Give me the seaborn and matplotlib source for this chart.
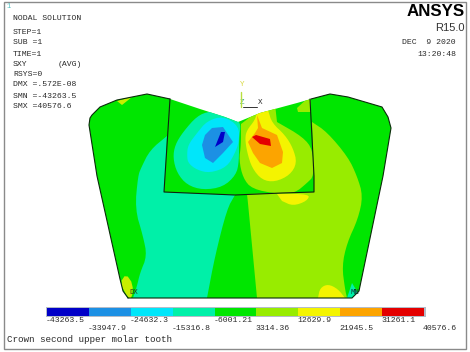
import numpy as np
import matplotlib
matplotlib.use("Agg")
import matplotlib.pyplot as plt
from matplotlib.colors import ListedColormap
from matplotlib.patches import Polygon
import seaborn as sns

# Contour levels and band colours
levels = [-43263.5, -33947.9, -24632.3, -15316.8, -6001.21, 3314.36, 12629.9, 21945.5, 31261.1, 40576.6]
level_labels = ["-43263.5", "-33947.9", "-24632.3", "-15316.8", "-6001.21", "3314.36", "12629.9", "21945.5", "31261.1", "40576.6"]
band_colors = ["#0000C8", "#1C90E4", "#00E6FA", "#00F0A8", "#00E600", "#98EC00", "#F4F400", "#FCA400", "#E40000"]
BLUE, AZURE, CYAN, MINT, GREEN, LIME, YELLOW, ORANGE, RED = band_colors

# Outlines (pixel-space model coordinates)
tooth = [(128,298),(123,291),(120,279),(97,176),(89,125),(90,118),(92,115),(100,107),(117,100),(147,94),(170,99),(200,109),(225,117),(238,122),
         (260,113),(297,103),(311,99),(330,94),(348,97),(382,107),(388,117),(391,128),(383,176),(359,291),(352,298)]
inner_line = [(170,99),(165,176),(164,192),(235,195),(282,193),(314,192),(314,176),(310,99)]

mint_left_edge = [(167,136),(150,150),(141,168),(138,176),(135,209),(143,236),(147,256),(140,273),(137,286),(133,298)]
mint_right_edge = [(207,298),(215,256),(227,209),(235,195)]
mint_rect_side = [(164,192),(165,176)]
mint_blob = [(173,158),(175,145),(183,132),(197,116),(210,111),(223,114),(235,118),(241,124),(239,138),(239,162),(236,175),
             (223,187),(203,190),(187,185),(177,173)]
cyan_blob = [(187,155),(188,145),(197,133),(207,121),(223,116),(239,126),(239,142),(235,153),(227,167),(210,173),(197,170),(188,163)]
azure_blob = [(202,145),(205,135),(212,128),(223,127),(233,142),(223,153),(213,163),(205,158)]
blue_blob = [(215,147),(219,137),(221,132),(225,132),(223,142)]

lime_center_edge = [(277,122),(303,137),(313,150),(314,176),(307,183),(295,193),(278,194),(252,189),(243,178),(239,160),(241,145),(241,124)]
lime_center_top = [(262,108),(275,104)]
lime_patch = [(297,108),(310,96),(311,112),(298,112)]
lime_right_edge = [(312,122),(327,132),(348,157),(357,176),(363,196),(358,219),(347,243),(342,266),(345,289),(347,298)]
lime_right_left = [(257,298),(248,203),(247,194)]
lime_right_rect = [(282,193),(314,192),(314,176)]
yellow_center_edge = [(268,110),(272,123),(285,135),(293,148),(297,163),(290,175),(275,182),(262,180),(252,168),(247,152),(245,138),(247,130),(255,120),(257,112)]
yellow_under = [(277,194),(310,194),(307,201),(293,206),(282,201)]
yellow_foot = [(318,298),(320,288),(328,284),(338,289),(345,298)]
yellow_corner = [(128,298),(120,283),(126,274),(133,284),(132,298)]
yellow_top = [(117,101),(132,97),(122,105)]
mint_corner = [(347,298),(352,283),(358,293),(353,298)]
orange_center = [(248,142),(255,133),(258,128),(257,115),(262,128),(277,135),(283,152),(282,163),(272,168),(260,163),(253,153)]
red_center = [(252,137),(256,135),(270,139),(271,146),(260,144)]

info_lines = [("NODAL SOLUTION", 18), ("STEP=1", 33), ("SUB =1", 43), ("TIME=1", 54), ("SXY", 65),
              ("RSYS=0", 75), ("DMX =.572E-08", 85), ("SMN =-43263.5", 96), ("SMX =40576.6", 107)]
caption = "Crown second upper molar tooth"


def soften(pts, closed=False, rounds=2):
    """Round a hand-read contour (corner cutting)."""
    p = np.asarray(pts, float)
    for _ in range(rounds):
        q = np.roll(p, -1, axis=0) if closed else p[1:]
        a = p if closed else p[:-1]
        new = np.empty((2 * len(a), 2))
        new[0::2] = 0.75 * a + 0.25 * q
        new[1::2] = 0.25 * a + 0.75 * q
        p = new if closed else np.vstack([p[:1], new, p[-1:]])
    return p


def join(*parts):
    return np.vstack([np.asarray(x, float) for x in parts])


regions = [
    (join(soften(mint_left_edge), soften(mint_right_edge), mint_rect_side), MINT),
    (soften(mint_blob, True), MINT),
    (soften(cyan_blob, True), CYAN),
    (np.asarray(azure_blob, float), AZURE),
    (np.asarray(blue_blob, float), BLUE),
    (join(soften(lime_right_edge), soften(lime_right_left), lime_right_rect), LIME),
    (join(soften(lime_center_edge), lime_center_top), LIME),
    (np.asarray(lime_patch, float), LIME),
    (soften(yellow_center_edge), YELLOW),
    (soften(yellow_under), YELLOW),
    (soften(yellow_foot), YELLOW),
    (soften(yellow_corner, True, 1), "#C8EE00"),
    (np.asarray(yellow_top, float), "#C8EE00"),
    (np.asarray(mint_corner, float), MINT),
    (np.asarray(orange_center, float), ORANGE),
    (np.asarray(red_center, float), RED),
]

sns.set_theme(style="white")
W, H = 470, 352
fig = plt.figure(figsize=(W/100, H/100), dpi=100, facecolor="white")
ax = fig.add_axes([0, 0, 1, 1])
ax.set_xlim(0, W); ax.set_ylim(H, 0); ax.axis("off")

MONO = "Liberation Mono"
INK = "#2a2a2a"

# frame
ax.add_patch(plt.Rectangle((3.5, 1.5), 462.5, 347.5, fill=False, ec="#8a8a8a", lw=1.0))

# model
base = Polygon(tooth, closed=True, fc=GREEN, ec="none", zorder=1)
ax.add_patch(base)
for pts, col in regions:
    p = Polygon(pts, closed=True, fc=col, ec="none", zorder=2)
    ax.add_patch(p)
    p.set_clip_path(base)
ax.plot(*zip(*tooth[:11]), color="#0a2a0a", lw=0.8, zorder=3)
ax.plot(*zip(*(tooth[16:] + tooth[:1])), color="#0a2a0a", lw=0.8, zorder=3)
ax.plot(*zip(*inner_line), color="#102010", lw=0.8, zorder=3)

# triad
ax.plot([241, 241], [92, 107], color="#B8E040", lw=1.0, zorder=4)
ax.plot([243, 257], [107, 107], color="#333333", lw=0.7, zorder=4)
ax.text(242, 85, "Y", color="#D8D840", fontsize=5.5, family=MONO, ha="center", va="center")
ax.text(242, 103, "Z", color="#40B080", fontsize=5.5, family=MONO, ha="center", va="center")
ax.text(260, 103, "X", color=INK, fontsize=5.5, family=MONO, ha="center", va="center")
ax.text(134, 293, "DX", color="#204020", fontsize=5.2, family=MONO, ha="center", va="center", zorder=5)
ax.text(355, 293, "MN", color="#103030", fontsize=5.2, family=MONO, ha="center", va="center", zorder=5)

# annotations
ax.text(9, 7, "1", color="#50C0C0", fontsize=5, family=MONO, ha="center", va="center")
for s, y in info_lines:
    ax.text(13, y, s, color=INK, fontsize=5.9, family=MONO, ha="left", va="center")
ax.text(58, 65, "(AVG)", color=INK, fontsize=5.9, family=MONO, ha="left", va="center")
ax.text(465, 12, "ANSYS", color="black", fontsize=12.2, family="Liberation Sans", weight="bold", ha="right", va="center")
ax.text(465, 28, "R15.0", color="#333333", fontsize=8, family="Liberation Sans", ha="right", va="center")
ax.text(456, 43, "DEC  9 2020", color=INK, fontsize=5.9, family=MONO, ha="right", va="center")
ax.text(456, 54, "13:20:48", color=INK, fontsize=5.9, family=MONO, ha="right", va="center")
ax.text(7, 339.5, caption, color=INK, fontsize=6.7, family=MONO, ha="left", va="center")

# legend strip drawn as a one-row seaborn heatmap
x0, x1, y0, y1 = 47, 424, 308, 316
ax.add_patch(plt.Rectangle((45.5, 306.5), 380.5, 10.5, fc="#B4BCC8", ec="none", zorder=1))
lax = fig.add_axes([x0/W, 1 - y1/H, (x1 - x0)/W, (y1 - y0)/H])
mids = np.array([(a + b) / 2 for a, b in zip(levels[:-1], levels[1:])]).reshape(1, -1)
sns.heatmap(mids, ax=lax, cmap=ListedColormap(band_colors), vmin=levels[0], vmax=levels[-1],
            cbar=False, xticklabels=False, yticklabels=False)
for i, s in enumerate(level_labels):
    ax.text(46 + i * 41.9, 320.5 if i % 2 == 0 else 328.5, s, color=INK, fontsize=5.9, family=MONO, ha="left", va="center")

fig.savefig("out.png", dpi=100)
